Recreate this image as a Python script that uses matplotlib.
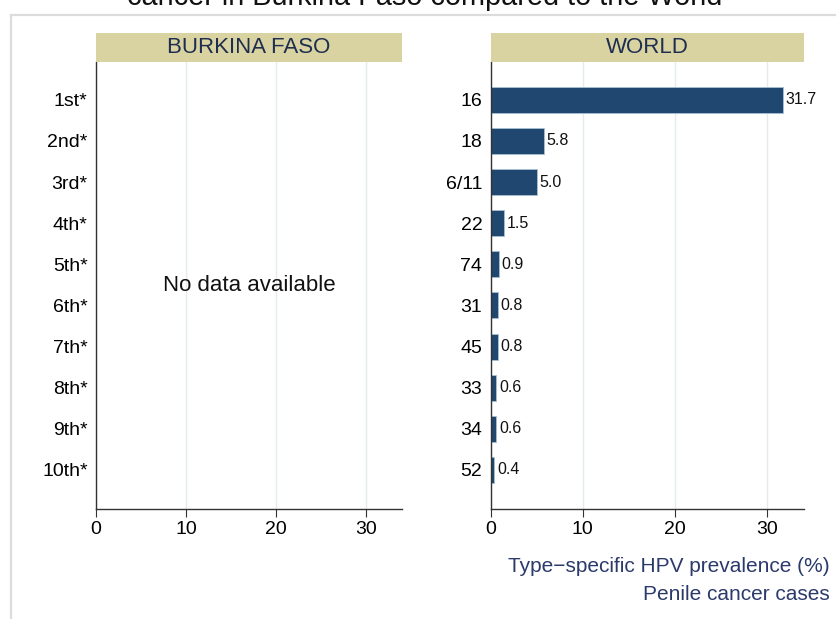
import matplotlib
matplotlib.use("Agg")
import matplotlib.pyplot as plt
from matplotlib.lines import Line2D

plt.rcParams['font.family'] = ['Liberation Sans', 'DejaVu Sans']

left_labels = ["1st*", "2nd*", "3rd*", "4th*", "5th*", "6th*", "7th*", "8th*", "9th*", "10th*"]
world_types = ["16", "18", "6/11", "22", "74", "31", "45", "33", "34", "52"]
world_values = [31.7, 5.8, 5.0, 1.5, 0.9, 0.8, 0.8, 0.6, 0.6, 0.4]
xticks = [0, 10, 20, 30]

W, H = 837, 619
fig = plt.figure(figsize=(W/100, H/100), dpi=100)

def fx(px): return px / W
def fy(py): return 1 - py / H

bar_color = "#1f4770"
strip_color = "#d8d3a0"
strip_text = "#1f2d50"
navy = "#2b3a6b"
spine_c = "#333333"
grid_c = "#e4ecef"

# frame
fig.add_artist(Line2D([fx(11), fx(11)], [fy(15), 0], color="#dcdcdc", lw=1.6, transform=fig.transFigure))
fig.add_artist(Line2D([fx(11), 1], [fy(15), fy(15)], color="#dcdcdc", lw=1.6, transform=fig.transFigure))

fig.text(fx(424.5), fy(5), "cancer in Burkina Faso compared to the World", ha="center", va="baseline",
         fontsize=20.8, color="#111111")

y_top, y_bot = 62, 509
ylim = (9.95, -0.92)

def make_axes(x0, x1, title):
    ax = fig.add_axes([fx(x0), fy(y_bot), fx(x1) - fx(x0), fy(y_top) - fy(y_bot)])
    ax.set_xlim(0, 34)
    ax.set_ylim(*ylim)
    ax.set_xticks(xticks)
    ax.set_xticklabels([str(t) for t in xticks], fontsize=14)
    ax.xaxis.grid(True, color=grid_c, lw=1)
    ax.set_axisbelow(True)
    for s in ["top", "right"]:
        ax.spines[s].set_visible(False)
    for s in ["left", "bottom"]:
        ax.spines[s].set_color(spine_c)
        ax.spines[s].set_linewidth(1)
    ax.tick_params(axis="x", length=5.5, color=spine_c, pad=3)
    ax.tick_params(axis="y", length=0, pad=6, labelsize=14)
    sax = fig.add_axes([fx(x0), fy(y_top), fx(x1) - fx(x0), fy(33) - fy(y_top)])
    sax.set_facecolor(strip_color)
    sax.set_xticks([]); sax.set_yticks([])
    for s in sax.spines.values():
        s.set_visible(False)
    sax.text(0.5, 0.5, title, ha="center", va="center", fontsize=16, color=strip_text,
             transform=sax.transAxes)
    return ax

axL = make_axes(96, 402, "BURKINA FASO")
axL.set_yticks(range(len(left_labels)))
axL.set_yticklabels(left_labels)
axL.text(0.5, 0.5, "No data available", ha="center", va="center", fontsize=16,
         color="#111111", transform=axL.transAxes)

axR = make_axes(490.6, 804, "WORLD")
pos = list(range(len(world_types)))
axR.barh(pos, world_values, height=0.63, color=bar_color, edgecolor="#a9bfd3", linewidth=0.6)
axR.set_yticks(pos)
axR.set_yticklabels(world_types)
for p, v in zip(pos, world_values):
    axR.text(v + 0.3, p, f"{v:.1f}", ha="left", va="center", fontsize=11.5, color="#111111")

fig.text(fx(830), fy(567), "Type\u2212specific HPV prevalence (%)", ha="right", va="center",
         fontsize=15, color=navy)
fig.text(fx(830), fy(595), "Penile cancer cases", ha="right", va="center",
         fontsize=15, color=navy)

fig.savefig("out.png", dpi=100)
